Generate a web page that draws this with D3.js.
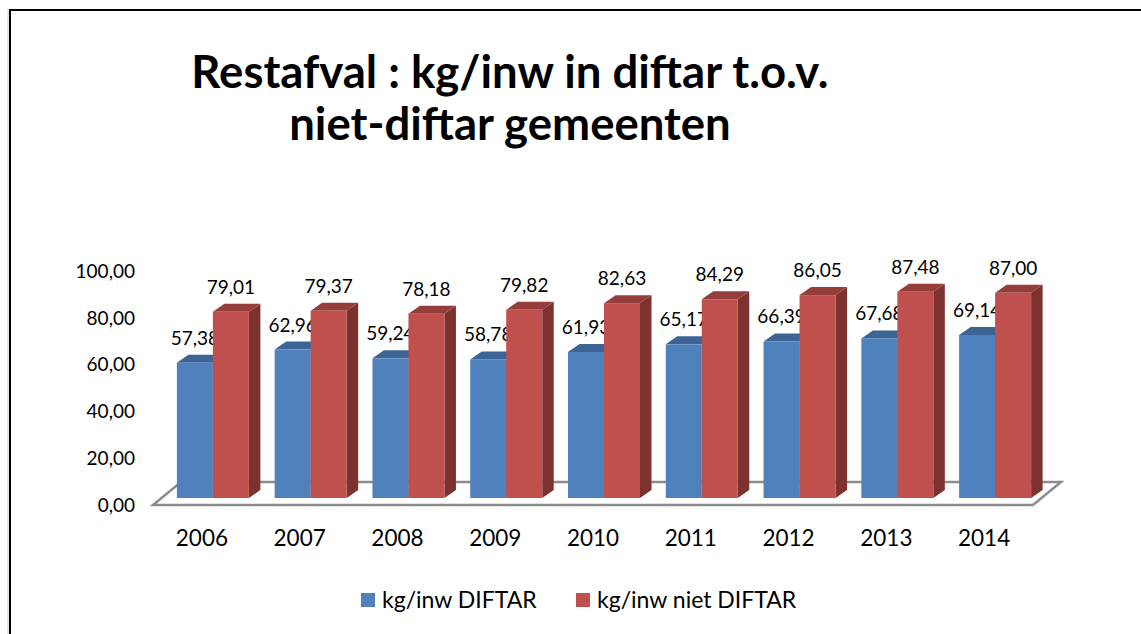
<!DOCTYPE html>
<html>
<head>
<meta charset="utf-8">
<script src="https://cdn.jsdelivr.net/npm/d3@7"></script>
<style>
  body { margin: 0; background: #fff; }
  svg { display: block; }
  text { font-family: Lato, "Liberation Sans", sans-serif; fill: #000; }
</style>
</head>
<body>
<svg id="chart" width="1141" height="634"></svg>
<script>
var years = ["2006", "2007", "2008", "2009", "2010", "2011", "2012", "2013", "2014"];
var seriesNames = ["kg/inw DIFTAR", "kg/inw niet DIFTAR"];
var diftar = [57.38, 62.96, 59.24, 58.78, 61.93, 65.17, 66.39, 67.68, 69.14];
var nietDiftar = [79.01, 79.37, 78.18, 79.82, 82.63, 84.29, 86.05, 87.48, 87.00];
var yTicks = [0, 20, 40, 60, 80, 100];
var titleLines = ["Restafval : kg/inw in diftar t.o.v.", "niet-diftar gemeenten"];

var style = {
    front: ["#4F81BD", "#C0504D"],
    top: ["#3C6494", "#953D3B"],
    side: ["#335480", "#7D3230"],
    depthX: 11.5,
    depthY: 8,
    floorX: 28,
    floorY: 23,
    groupWidth: 72
};

var nl = d3.formatLocale({decimal: ",", thousands: ".", grouping: [3], currency: ["€", ""]});
var fmt = nl.format(".2f");

var svg = d3.select("#chart");

// frame (only top and left edge visible)
svg.append("line").attr("x1", 8).attr("y1", 9).attr("x2", 8).attr("y2", 634)
    .attr("stroke", "#d0d0d0").attr("stroke-width", 1);
svg.append("path").attr("d", "M10,634 V10 H1141")
    .attr("fill", "none").attr("stroke", "#000").attr("stroke-width", 2);

// title
svg.append("g").selectAll("text").data(titleLines).enter().append("text")
    .attr("x", 510)
    .attr("y", function(d, i) { return 88 + i * 52; })
    .attr("text-anchor", "middle")
    .attr("font-weight", "bold")
    .attr("font-size", 45.5)
    .text(function(d) { return d; });

// scales
var y = d3.scaleLinear().domain([0, 100]).range([498, 262.2]);
var yLabel = d3.scaleLinear().domain([0, 100]).range([505, 271.5]);
var xFront = d3.scaleBand().domain(years).range([153, 1033]);
var xBar = d3.scaleBand().domain(years).range([164, 1044]);
var xSub = d3.scaleBand().domain([0, 1]).range([-style.groupWidth / 2, style.groupWidth / 2]);

// floor
var fl = xFront.range();
var floorPts = [
    [fl[0], yLabel(0)],
    [fl[1], yLabel(0)],
    [fl[1] + style.floorX, yLabel(0) - style.floorY],
    [fl[0] + style.floorX, yLabel(0) - style.floorY]
];
svg.append("polygon")
    .attr("points", floorPts.map(function(p) { return p.join(","); }).join(" "))
    .attr("fill", "#fff").attr("stroke", "#8c8c8c").attr("stroke-width", 2.5)
    .attr("stroke-linejoin", "miter");

// y axis labels
var yAxis = d3.axisLeft(yLabel).tickValues(yTicks).tickSize(0).tickPadding(0).tickFormat(fmt);
var gy = svg.append("g").attr("transform", "translate(135,0)").call(yAxis);
gy.select(".domain").remove();
gy.selectAll("text").attr("font-size", 19).attr("font-family", "Lato, 'Liberation Sans', sans-serif").attr("fill", "#000");

// x axis labels
var xAxis = d3.axisBottom(xFront).tickSize(0).tickPadding(0);
var gx = svg.append("g").attr("transform", "translate(0,530)").call(xAxis);
gx.select(".domain").remove();
gx.selectAll("text").attr("font-size", 22.5).attr("font-family", "Lato, 'Liberation Sans', sans-serif").attr("fill", "#000");

// bars
var rows = [];
years.forEach(function(yr, i) {
    rows.push({year: yr, s: 0, v: diftar[i]});
    rows.push({year: yr, s: 1, v: nietDiftar[i]});
});

var bar = svg.append("g").selectAll("g").data(rows).enter().append("g");

var bx = function(d) { return xBar(d.year) + xBar.bandwidth() / 2 + xSub(d.s); };
var bw = xSub.bandwidth();
var dx = style.depthX, dy = style.depthY;

bar.append("polygon")
    .attr("points", function(d) {
        var x = bx(d), t = y(d.v), b = y(0);
        return [[x + bw, t], [x + bw + dx, t - dy], [x + bw + dx, b - dy], [x + bw, b]].join(" ");
    })
    .attr("fill", function(d) { return style.side[d.s]; });

bar.append("polygon")
    .attr("points", function(d) {
        var x = bx(d), t = y(d.v);
        return [[x, t], [x + dx, t - dy], [x + bw + dx, t - dy], [x + bw, t]].join(" ");
    })
    .attr("fill", function(d) { return style.top[d.s]; });

bar.append("rect")
    .attr("x", bx)
    .attr("y", function(d) { return y(d.v); })
    .attr("width", bw)
    .attr("height", function(d) { return y(0) - y(d.v); })
    .attr("fill", function(d) { return style.front[d.s]; });

bar.append("text")
    .attr("x", function(d) { return bx(d) + bw / 2; })
    .attr("y", function(d) { return y(d.v) - 18; })
    .attr("text-anchor", "middle")
    .attr("font-size", 19)
    .text(function(d) { return fmt(d.v); });

// legend
var legendX = [361, 576];
var lg = svg.append("g").selectAll("g").data(seriesNames).enter().append("g")
    .attr("transform", function(d, i) { return "translate(" + legendX[i] + ",593)"; });
lg.append("rect").attr("width", 14).attr("height", 14)
    .attr("fill", function(d, i) { return style.front[i]; });
lg.append("text").attr("x", 21).attr("y", 14.5).attr("font-size", 23)
    .text(function(d) { return d; });
</script>
</body>
</html>
